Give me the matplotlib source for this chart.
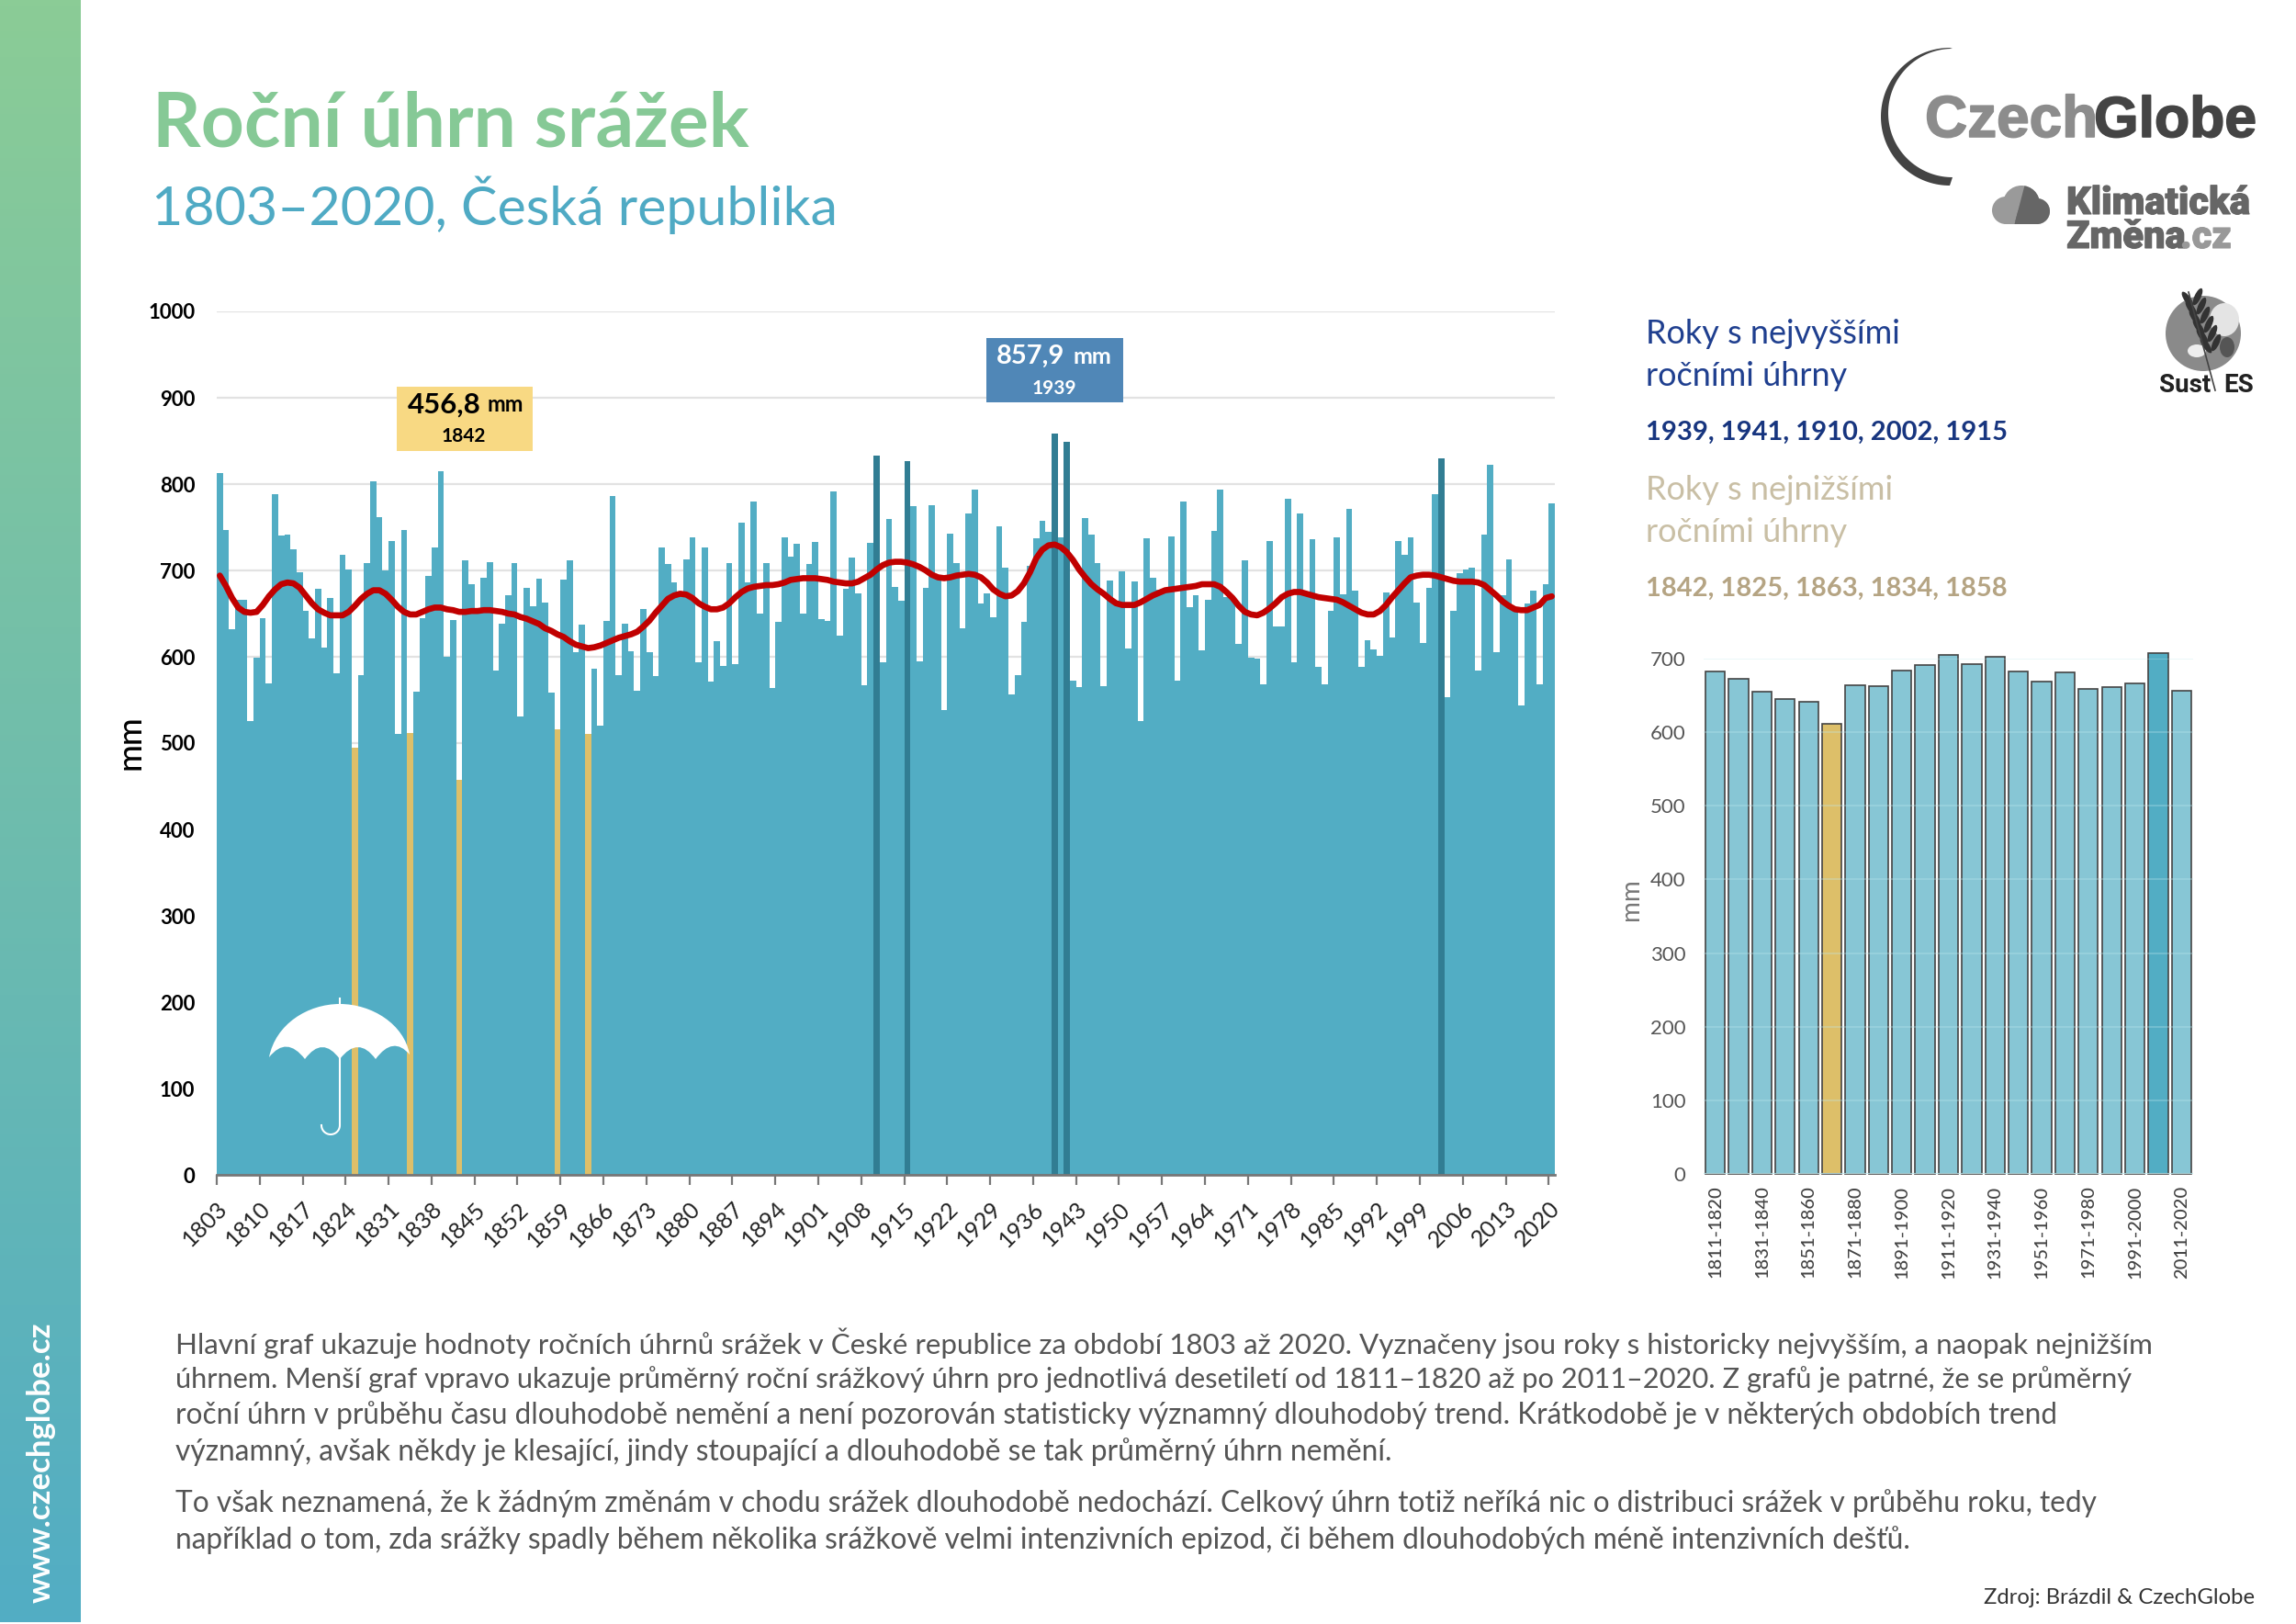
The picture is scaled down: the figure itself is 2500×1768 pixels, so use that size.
import numpy as np
import matplotlib
matplotlib.use('Agg')
import matplotlib.pyplot as plt
import matplotlib.patheffects as pe
from matplotlib.patches import Rectangle, PathPatch, Circle, Ellipse, Polygon
from matplotlib.path import Path

years = list(range(1803, 2021))
precip = [
813,747,632,666,666,526,599,645,569,788,740,741,724,698,653,621,679,611,668,581,718,701,495,579,709,803,762,700,734,511,747,512,560,645,694,727,815,600,643,457,
712,684,655,692,710,584,638,671,709,531,680,659,690,663,558,516,689,712,605,637,511,586,520,642,786,579,638,606,561,655,605,578,
727,707,686,675,713,738,594,727,571,618,589,708,592,755,686,780,650,708,564,640,738,716,731,650,707,733,644,641,791,625,679,715,673,567,732,833,594,760,681,665,827,774,595,680,776,690,538,743,708,633,766,794,662,673,646,751,703,556,579,640,705,737,757,745,858,738,849,572,565,761,742,708,
566,688,662,699,610,687,526,737,692,678,677,739,572,780,657,671,607,666,746,794,669,666,615,712,599,598,568,734,635,635,783,594,766,670,736,588,568,653,738,672,771,677,588,619,609,601,674,622,734,718,738,663,616,680,788,830,553,653,697,701,703,584,741,822,605,671,713,657,544,662,677,568,684,778]
smooth = [
694,682,668,657,652,651,652,660,670,678,684,686,685,680,671,662,655,651,648,648,648,652,659,667,673,677,677,673,666,658,652,649,649,652,655,657,657,655,654,652,
652,653,653,654,654,653,652,650,649,646,644,641,638,633,630,626,623,618,614,612,610,611,613,616,619,622,624,626,629,635,642,651,
659,667,671,673,672,668,662,658,655,655,657,662,669,675,679,681,682,683,683,684,686,689,690,691,691,691,690,689,687,686,685,685,687,691,695,701,706,709,710,710,709,707,704,700,695,692,691,692,694,695,696,695,692,686,678,673,670,671,676,685,698,714,724,729,730,727,721,712,701,692,684,678,
673,667,662,660,660,660,663,667,671,674,677,678,679,680,681,682,684,684,684,681,675,668,659,652,649,648,651,656,662,669,673,675,675,673,671,669,668,667,666,663,659,655,651,649,649,653,660,669,677,685,692,694,695,695,694,692,690,688,687,687,687,686,683,677,671,664,659,655,654,654,657,660,668,670]
high_years = [1939, 1941, 1910, 2002, 1915]
low_years = [1842, 1825, 1863, 1834, 1858]
main_ticks = list(range(1803, 2021, 7))
main_yticks = list(range(0, 1001, 100))

decades = ['%d-%d' % (y, y + 9) for y in range(1811, 2012, 10)]
decade_values = [683,672,655,645,641,611,664,662,684,691,705,692,702,682,669,681,659,661,666,707,656]
decade_low = '1861-1870'
decade_high = '2001-2010'
side_yticks = list(range(0, 701, 100))

title = 'Roční úhrn srážek'
subtitle = '1803–2020, Česká republika'
body = [
 'Hlavní graf ukazuje hodnoty ročních úhrnů srážek v České republice za období 1803 až 2020. Vyznačeny jsou roky s historicky nejvyšším, a naopak nejnižším',
 'úhrnem. Menší graf vpravo ukazuje průměrný roční srážkový úhrn pro jednotlivá desetiletí od 1811–1820 až po 2011–2020. Z grafů je patrné, že se průměrný',
 'roční úhrn v průběhu času dlouhodobě nemění a není pozorován statisticky významný dlouhodobý trend. Krátkodobě je v některých obdobích trend',
 'významný, avšak někdy je klesající, jindy stoupající a dlouhodobě se tak průměrný úhrn nemění.',
 'To však neznamená, že k žádným změnám v chodu srážek dlouhodobě nedochází. Celkový úhrn totiž neříká nic o distribuci srážek v průběhu roku, tedy',
 'například o tom, zda srážky spadly během několika srážkově velmi intenzivních epizod, či během dlouhodobých méně intenzivních dešťů.']
body_y = [1462, 1502, 1541, 1581, 1637, 1677]
body_size = [22.55, 22.15, 22.7, 22.85, 22.8, 22.75]

W, H = 2500, 1768
BLUE, DARK, GOLD = '#52ADC4', '#317D93', '#DDBF69'
plt.rcParams['font.family'] = ['Lato', 'DejaVu Sans']

fig = plt.figure(figsize=(W / 100, H / 100), dpi=100, facecolor='white')

def axes_px(l, t, r, b):
    return fig.add_axes([l / W, 1 - b / H, (r - l) / W, (b - t) / H])

# sidebar
sb = axes_px(0, 0, 88, 1766)
c0, c1 = np.array([0x8B, 0xCC, 0x96]) / 255, np.array([0x52, 0xAD, 0xC4]) / 255
t = np.linspace(0, 1, 256)[:, None, None]
sb.imshow(c0 * (1 - t) + c1 * t, aspect='auto')
sb.axis('off')

# main chart
ax = axes_px(236, 339, 1693, 1279)
colors = [DARK if y in high_years else GOLD if y in low_years else BLUE for y in years]
ax.yaxis.grid(True, color='#E2E2E2', lw=1.6)
ax.set_axisbelow(True)
ax.bar(years, precip, width=1, align='edge', color=colors, lw=0, zorder=2)
ax.plot(np.array(years) + 0.5, smooth, color='#C00000', lw=4.8, solid_capstyle='round', solid_joinstyle='round', zorder=3)
ax.set_xlim(1803, 2021)
ax.set_ylim(0, 1000)
ax.set_yticks(main_yticks)
ax.set_yticklabels([str(v) for v in main_yticks], fontsize=16, color='black', fontweight='bold')
ax.set_xticks(main_ticks)
ax.set_xticklabels([str(v) for v in main_ticks], rotation=45, ha='right', rotation_mode='anchor', fontsize=18, color='#222222')
ax.tick_params(axis='y', length=0, pad=17)
ax.tick_params(axis='x', length=8, width=1.6, color='#777777', pad=10)
for s in ['top', 'left', 'right']:
    ax.spines[s].set_visible(False)
ax.spines['bottom'].set_color('#777777')
ax.spines['bottom'].set_linewidth(2)

# side chart
ax2 = axes_px(1855, 717, 2388, 1278)
col2 = [GOLD if d == decade_low else BLUE if d == decade_high else '#87C6D5' for d in decades]
ax2.bar(decades, decade_values, width=0.84, color=col2, edgecolor='#444444', lw=1.2, zorder=2)
for v in side_yticks:
    ax2.axhline(v, color='#BFE8EE', lw=1.5, alpha=0.3 if v else 0.8, zorder=3)
ax2.set_ylim(0, 700)
ax2.set_xlim(-0.5, len(decades) - 0.5)
for b in ax2.patches:
    b.set_clip_on(False)
ax2.set_yticks(side_yticks)
ax2.set_yticklabels([str(v) for v in side_yticks], fontsize=16, color='#555555')
ax2.set_xticks(range(0, len(decades), 2))
ax2.set_xticklabels(decades[::2], rotation=90, fontsize=14.5, color='#444444', fontweight='medium')
ax2.tick_params(axis='both', length=0)
ax2.tick_params(axis='y', pad=14)
ax2.tick_params(axis='x', pad=9)
for s in ax2.spines.values():
    s.set_visible(False)

# overlay in pixel coordinates
ov = fig.add_axes([0, 0, 1, 1], zorder=10)
ov.set_xlim(0, W)
ov.set_ylim(H, 0)
ov.axis('off')
ov.patch.set_alpha(0)

def T(x, y, s, **k):
    k.setdefault('va', 'center')
    return ov.text(x, y, s, **k)

T(45, 1592, 'www.czechglobe.cz', rotation=90, ha='center', color='white', fontsize=25, fontweight='bold')
T(166, 136, title, color='#86C996', fontsize=59, fontweight='bold')
T(165, 223, subtitle, color='#4FAAC4', fontsize=42.6)
T(142, 808, 'mm', rotation=90, ha='center', color='black', fontsize=26, fontweight='medium')
T(1776, 979, 'mm', rotation=90, ha='center', color='#777777', fontsize=20)

# callouts
ov.add_patch(Rectangle((432, 421), 148, 70, color='#F8D983', lw=0))
ov.text(524, 441, '456,8', ha='right', va='center', fontsize=22.5, fontweight='bold', color='black')
ov.text(530, 441, 'mm', ha='left', va='center', fontsize=17, fontweight='bold', color='black')
T(505, 475, '1842', ha='center', fontsize=15, fontweight='bold', color='black')
ov.add_patch(Rectangle((1074, 368), 149, 70, color='#5087B7', lw=0))
ov.text(1159, 388, '857,9', ha='right', va='center', fontsize=21, fontweight='bold', color='white')
ov.text(1168, 388, 'mm', ha='left', va='center', fontsize=18, fontweight='bold', color='white')
T(1148, 423, '1939', ha='center', fontsize=15, fontweight='bold', color='white')

# right-hand text
navy, tan = '#1F3F8F', '#C9BFA5'
T(1792, 364, 'Roky s nejvyššími', color=navy, fontsize=25.9)
T(1792, 410, 'ročními úhrny', color=navy, fontsize=25.9)
T(1792, 471, ', '.join(map(str, high_years)), color='#17357F', fontsize=21, fontweight='bold')
T(1792, 534, 'Roky s nejnižšími', color=tan, fontsize=25.9)
T(1792, 579, 'ročními úhrny', color=tan, fontsize=25.9)
T(1792, 641, ', '.join(map(str, low_years)), color='#B5A483', fontsize=21, fontweight='bold')

for s, y, fs in zip(body, body_y, body_size):
    T(191, y, s, color='#555555', fontsize=fs)
T(2455, 1739, 'Zdroj: Brázdil & CzechGlobe', ha='right', color='#333333', fontsize=17.2)

# umbrella
P = Path
verts = [(293, 1151), (300, 1115), (335, 1093), (370, 1093), (405, 1093), (440, 1115), (446, 1148),
         (428, 1127), (409, 1153), (390, 1127), (370, 1153), (351, 1127), (332, 1153), (312, 1127), (293, 1151)]
codes = [P.MOVETO] + [P.CURVE4] * 6 + [P.CURVE3] * 8
ov.add_patch(PathPatch(Path(verts, codes), fc='white', ec='none'))
ov.plot([370, 370], [1087, 1095], color='white', lw=1.5)
th = np.linspace(0, np.pi, 30)
ov.plot(np.r_[370, 370 - 10 + 10 * np.cos(th)], np.r_[1150, 1225 + 10 * np.sin(th)], color='white', lw=1.5)

# CzechGlobe logo
a = np.linspace(np.pi / 2, 3 * np.pi / 2, 80)
outer = np.c_[2123 + 75 * np.cos(-a), 127 - 75 * np.sin(-a)]
ia = a[::-1]
inner = np.c_[2126 + 70 * np.cos(-ia), 123 - 70 * np.sin(-ia)]
ov.add_patch(Polygon(np.r_[outer, inner], fc='#444444', ec='none'))
heavy = [pe.withStroke(linewidth=1.2, foreground='#8C8C8C')]
ov.text(2096, 149, 'Czech', ha='left', va='baseline', family='Liberation Sans', fontweight='bold', fontsize=46, color='#8C8C8C', path_effects=heavy)
heavy = [pe.withStroke(linewidth=1.2, foreground='#444444')]
ov.text(2280, 149, 'Globe', ha='left', va='baseline', family='Liberation Sans', fontweight='bold', fontsize=45, color='#444444', path_effects=heavy)
# Klimaticka Zmena logo
for (cx, cy, r) in [(2184, 229, 15), (2201, 222, 20), (2218, 230, 14)]:
    ov.add_patch(Circle((cx, cy), r, fc='#9A9A9A', ec='none'))
ov.add_patch(Rectangle((2184, 229), 34, 15, fc='#9A9A9A', ec='none'))
clip = Polygon([(2205, 200), (2240, 200), (2240, 246), (2193, 246)], transform=ov.transData, fc='none', ec='none')
ov.add_patch(clip)
for (cx, cy, r) in [(2201, 222, 20), (2218, 230, 14)]:
    c = Circle((cx, cy), r, fc='#666666', ec='none')
    ov.add_patch(c)
    c.set_clip_path(clip)
c = Rectangle((2190, 229), 28, 15, fc='#666666', ec='none')
ov.add_patch(c)
c.set_clip_path(clip)
kz = [pe.withStroke(linewidth=0.8, foreground='#666666')]
ov.text(2250, 233, 'Klimatická', ha='left', va='baseline', family='Roboto', fontweight='black', fontsize=30, color='#666666', path_effects=kz)
ov.text(2250, 270, 'Změna', ha='left', va='baseline', family='Roboto', fontweight='black', fontsize=30, color='#666666', path_effects=kz)
ov.text(2374, 270, '.cz', ha='left', va='baseline', family='Roboto', fontweight='black', fontsize=30, color='#999999',
        path_effects=[pe.withStroke(linewidth=0.8, foreground='#999999')])
# SustES logo
ov.add_patch(Circle((2399, 363), 41, fc='#8A8A8A', ec='none'))
ov.add_patch(Ellipse((2422, 348), 32, 36, fc='#E4E4E4', ec='none'))
ov.add_patch(Ellipse((2392, 382), 20, 14, fc='#EEEEEE', ec='none'))
ov.add_patch(Ellipse((2425, 378), 16, 22, fc='#555555', ec='none'))
for i in range(6):
    y0 = 326 + i * 10
    ov.add_patch(Ellipse((2382 + i * 4, y0), 7, 20, angle=-35, fc='#333333', ec='none'))
    ov.add_patch(Ellipse((2393 + i * 4, y0 - 3), 7, 20, angle=25, fc='#333333', ec='none'))
ov.plot([2383, 2412], [318, 425], color='#444444', lw=1.2)
ov.text(2351, 427, 'Sust', ha='left', va='baseline', family='Roboto', fontweight='bold', fontsize=20, color='#222222')
ov.text(2421, 427, 'ES', ha='left', va='baseline', family='Roboto', fontweight='bold', fontsize=20, color='#222222')

fig.savefig('out.png', dpi=100, facecolor='white')
